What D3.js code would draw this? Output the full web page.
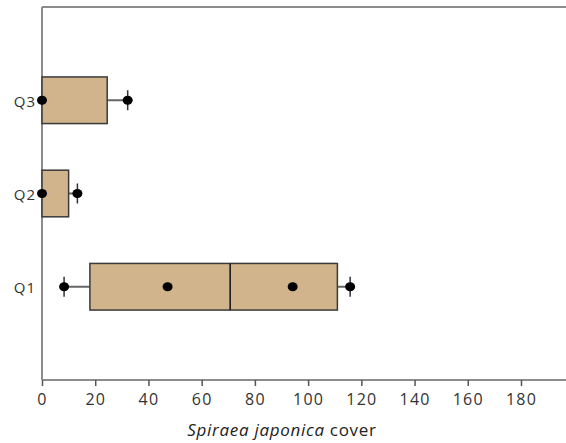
<!DOCTYPE html>
<html>
<head>
<meta charset="utf-8">
<script src="https://cdn.jsdelivr.net/npm/d3@7"></script>
<style>
  body { margin: 0; background: #fff; }
  text { font-family: "Open Sans", sans-serif; }
</style>
</head>
<body>
<div id="chart"></div>
<script>
// quadrats and their box summaries (cover values)
var quadrats = ["Q1", "Q2", "Q3"]
var q1Low = [18, 0, 0]
var q3High = [111, 10, 24.5]
var medians = [70.7, null, null]
var whiskerLow = [8.3, null, null]
var whiskerHigh = [115.8, 13.3, 32.2]
var points = [[47.2, 94.2], [0], [0]]
var xTicks = [0, 20, 40, 60, 80, 100, 120, 140, 160, 180]

var width = 566, height = 443
var margin = {top: 7, right: 0, bottom: 63, left: 42}

var svg = d3.select("#chart").append("svg")
    .attr("width", width)
    .attr("height", height)

var x = d3.scaleLinear()
  .domain([0, 180])
  .range([margin.left, 521])

var y = d3.scalePoint()
  .domain(quadrats)
  .range([height - margin.bottom, margin.top])
  .padding(1)

var boxH = y.step() / 2

// frame: top line
svg.append("line")
  .attr("x1", margin.left).attr("x2", width)
  .attr("y1", margin.top).attr("y2", margin.top)
  .attr("stroke", "#8c8c8c").attr("stroke-width", 2)

// x axis
var xAxis = svg.append("g")
  .attr("transform", "translate(0," + (height - margin.bottom) + ")")
  .call(d3.axisBottom(x).tickValues(xTicks).tickSize(6).tickSizeOuter(0))
xAxis.select(".domain").attr("d", "M" + margin.left + ",0H" + width)
  .attr("stroke", "#8c8c8c").attr("stroke-width", 2)
xAxis.selectAll(".tick line").attr("stroke", "#555").attr("stroke-width", 1.5)
xAxis.selectAll(".tick text")
  .attr("dy", "1em")
  .style("font-size", "16px")
  .style("letter-spacing", "1.2px")
  .attr("fill", "#333")

// y axis
var yAxis = svg.append("g")
  .attr("transform", "translate(" + margin.left + ",0)")
  .call(d3.axisLeft(y).tickSize(0).tickPadding(6))
yAxis.select(".domain")
  .attr("d", "M0," + margin.top + "V" + (height - margin.bottom))
  .attr("stroke", "#8c8c8c").attr("stroke-width", 2)
yAxis.selectAll(".tick text")
  .attr("dy", "0.4em")
  .style("font-size", "15px")
  .style("letter-spacing", "1px")
  .attr("fill", "#333")

var rows = quadrats.map(function(q, i) {
  return {q: q, lo: q1Low[i], hi: q3High[i], med: medians[i],
          wl: whiskerLow[i], wh: whiskerHigh[i], pts: points[i]}
})

var g = svg.append("g")

// whisker lines
rows.forEach(function(d) {
  var cy = y(d.q)
  if (d.wl != null) {
    g.append("line").attr("x1", x(d.wl)).attr("x2", x(d.lo))
      .attr("y1", cy).attr("y2", cy).attr("stroke", "#666").attr("stroke-width", 2)
  }
  if (d.wh != null) {
    g.append("line").attr("x1", x(d.hi)).attr("x2", x(d.wh))
      .attr("y1", cy).attr("y2", cy).attr("stroke", "#666").attr("stroke-width", 2)
  }
})

// boxes
g.selectAll(".box")
  .data(rows)
  .enter().append("rect")
  .attr("class", "box")
  .attr("x", d => x(d.lo))
  .attr("y", d => y(d.q) - boxH / 2)
  .attr("width", d => x(d.hi) - x(d.lo))
  .attr("height", boxH)
  .attr("fill", "#d2b48c")
  .attr("stroke", "#3a3a3a")
  .attr("stroke-width", 1.5)

// median
g.selectAll(".median")
  .data(rows.filter(d => d.med != null))
  .enter().append("line")
  .attr("x1", d => x(d.med)).attr("x2", d => x(d.med))
  .attr("y1", d => y(d.q) - boxH / 2).attr("y2", d => y(d.q) + boxH / 2)
  .attr("stroke", "#111").attr("stroke-width", 1.5)

// whisker ends: cross with dot, plus extra points
rows.forEach(function(d) {
  var cy = y(d.q)
  ;[d.wl, d.wh].forEach(function(v) {
    if (v == null) return
    g.append("line").attr("x1", x(v)).attr("x2", x(v))
      .attr("y1", cy - 10).attr("y2", cy + 10)
      .attr("stroke", "#333").attr("stroke-width", 1.5)
    g.append("ellipse").attr("cx", x(v)).attr("cy", cy)
      .attr("rx", 5).attr("ry", 4.5).attr("fill", "#000")
  })
  d.pts.forEach(function(v) {
    g.append("ellipse").attr("cx", x(v)).attr("cy", cy)
      .attr("rx", 5).attr("ry", 4.5).attr("fill", "#000")
  })
})

// axis title
var title = svg.append("text")
  .attr("x", 282)
  .attr("y", 436)
  .attr("text-anchor", "middle")
  .style("font-size", "17px")
  .style("letter-spacing", "0.7px")
  .attr("fill", "#222")
title.append("tspan").style("font-style", "italic").text("Spiraea japonica")
title.append("tspan").text(" cover")
</script>
</body>
</html>
